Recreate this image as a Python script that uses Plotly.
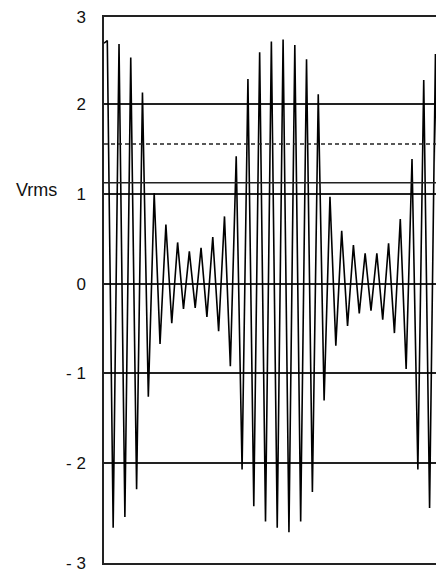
import plotly.graph_objects as go

# sample index (first point sits on the left axis, between samples)
t = [-0.56] + list(range(59))
vrms = [2.68,
        2.71, -2.72, 2.67, -2.60, 2.52, -2.29, 2.13, -1.26, 1.01, -0.67,
        0.66, -0.44, 0.46, -0.28, 0.36, -0.27, 0.40, -0.37, 0.52, -0.53,
        0.75, -0.92, 1.42, -2.07, 2.28, -2.48, 2.58, -2.65, 2.70, -2.72,
        2.72, -2.77, 2.66, -2.65, 2.50, -2.32, 2.11, -1.30, 0.97, -0.69,
        0.59, -0.47, 0.43, -0.33, 0.34, -0.30, 0.34, -0.40, 0.45, -0.55,
        0.72, -0.95, 1.39, -2.07, 2.27, -2.50, 2.56, -2.68, 2.62]

solid_levels = [1.125]
dashed_levels = [1.557]

y_lo, y_hi = -3.112, 2.972
tick_vals = [y_lo + 0.004, -2, -1, 0, 1, 2, y_hi - 0.004]
tick_text = ["- 3", "- 2", "- 1", "0", "1", "2", "3"]

fig = go.Figure()
fig.add_trace(go.Scatter(x=t, y=vrms, mode="lines",
                         line=dict(color="black", width=1.6),
                         showlegend=False, hoverinfo="skip"))

shapes = []
for lv in solid_levels:
    shapes.append(dict(type="line", xref="paper", x0=0, x1=1, yref="y", y0=lv, y1=lv,
                       line=dict(color="#222", width=1.5)))
for lv in dashed_levels:
    shapes.append(dict(type="line", xref="paper", x0=0, x1=1, yref="y", y0=lv, y1=lv,
                       line=dict(color="#222", width=1.5, dash="4px,3px")))

# page body adds an 8px offset, so the figure is 8px smaller on each side
fig.update_layout(
    width=436, height=566,
    margin=dict(l=96, r=0, t=9, b=11),
    paper_bgcolor="white", plot_bgcolor="white",
    shapes=shapes,
    font=dict(family="Liberation Sans, Arial, sans-serif", color="#111"),
    xaxis=dict(range=[-0.563, 57.46], showgrid=False, zeroline=False,
               showticklabels=False, ticks="", showline=True, mirror=True,
               linecolor="#222", linewidth=1.5),
    yaxis=dict(range=[y_lo, y_hi], tickvals=tick_vals, ticktext=tick_text,
               showgrid=True, gridcolor="#222", gridwidth=1.5, zeroline=False,
               showline=True, linecolor="#222", linewidth=1.5, mirror=False,
               ticks="", ticklabelstandoff=13, tickfont=dict(size=17)),
    annotations=[dict(text="Vrms", xref="paper", yref="paper",
                      x=(14 - 104) / 340, y=(563 - 190) / 546,
                      xanchor="left", yanchor="middle", showarrow=False,
                      font=dict(size=18))],
)

fig.write_html("out.html")
